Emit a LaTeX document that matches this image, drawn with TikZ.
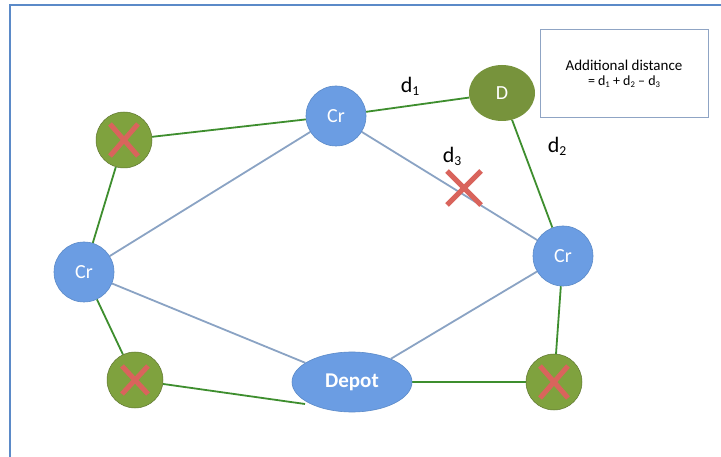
\documentclass[tikz,border=0pt]{standalone}
\usepackage{fontspec}
\setmainfont{Carlito}
\usetikzlibrary{shapes.geometric,calc}
\pgfdeclarelayer{bg}
\pgfsetlayers{bg,main}
\definecolor{crblue}{HTML}{6B9DE3}
\definecolor{crborder}{HTML}{5B8AC8}
\definecolor{olive}{HTML}{77933C}
\definecolor{xgreen}{HTML}{7FA23E}
\definecolor{edgegreen}{HTML}{3E8E2E}
\definecolor{edgeblue}{HTML}{8AA3C4}
\definecolor{xred}{HTML}{D9645C}
\definecolor{frameblue}{HTML}{5B8AC8}
\definecolor{boxborder}{HTML}{8FA4C4}
\newcommand{\sbs}[1]{\raisebox{-0.3ex}{\scalebox{0.62}{#1}}}
\tikzset{
  crnode/.style={circle, minimum size=60pt, inner sep=0pt, fill=crblue, draw=crborder, line width=0.6pt, text=white, font=\fontsize{20}{22}\selectfont},
  xnode/.style={circle, minimum size=56pt, inner sep=0pt, fill=xgreen, draw=olive!80!black, line width=0.5pt},
  dnode/.style={ellipse, minimum width=66pt, minimum height=56pt, inner sep=0pt, fill=olive, text=white, font=\fontsize{20}{22}\selectfont},
  depotnode/.style={ellipse, minimum width=120pt, minimum height=60pt, inner sep=0pt, fill=crblue, draw=crborder, line width=0.6pt, text=white, font=\bfseries\fontsize{21}{23}\selectfont},
  gedge/.style={draw=edgegreen, line width=1.8pt},
  bedge/.style={draw=edgeblue, line width=1.8pt},
  redx/.style={draw=xred, line width=5pt},
  dlabel/.style={font=\fontsize{22}{24}\selectfont, text=black},
  infobox/.style={draw=boxborder, line width=1pt, fill=white, minimum width=168pt, minimum height=88pt, align=center, font=\fontsize{15}{17}\selectfont}
}
\begin{document}
\begin{tikzpicture}[x=1pt,y=-1pt]
\useasboundingbox (0,0) rectangle (721,457);
% frame (top and left)
\coordinate (f1) at (721,5);
\coordinate (f2) at (10,5);
\coordinate (f3) at (10,457);
\draw[frameblue, line width=2pt] (f1) -- (f2) -- (f3);

% nodes
\node[xnode] (xa) at (124,140) {};
\node[crnode] (crt) at (336,116) {Cr};
\node[dnode] (d) at (502,93) {D};
\node[crnode] (crr) at (563,256) {Cr};
\node[crnode] (crl) at (84,272) {Cr};
\node[xnode] (xb) at (135,380) {};
\node[depotnode] (depot) at (352,382) {Depot};
\node[xnode] (xc) at (554,382) {};
\coordinate (dbl) at (305,404);

% edges behind nodes
\begin{pgfonlayer}{bg}
\fill[white] (0,0) rectangle (721,457);
\draw[gedge] (xa) -- (crt);
\draw[gedge] (crt) -- (d);
\draw[gedge] (d) -- (crr);
\draw[gedge] (crr) -- (xc);
\draw[gedge] (xc) -- (depot);
\draw[gedge] (xb) -- (dbl);
\draw[gedge] (crl) -- (xa);
\draw[gedge] (crl) -- (xb);
\draw[bedge] (crl) -- (crt);
\draw[bedge] (crl) -- (depot);
\draw[bedge] (crt) -- (crr);
\draw[bedge] (crr) -- (depot);
\end{pgfonlayer}

% red crosses
\coordinate (rxc) at (464,188);
\draw[redx] ($(rxc)+(-17,-17)$) -- ($(rxc)+(17,17)$);
\draw[redx] ($(rxc)+(17,-17)$) -- ($(rxc)+(-17,17)$);
\draw[redx] ($(xa)+(-14,-16)$) -- ($(xa)+(14,16)$);
\draw[redx] ($(xa)+(14,-16)$) -- ($(xa)+(-14,16)$);
\draw[redx] ($(xb)+(-13,-14)$) -- ($(xb)+(13,14)$);
\draw[redx] ($(xb)+(13,-14)$) -- ($(xb)+(-13,14)$);
\draw[redx] ($(xc)+(-14,-16)$) -- ($(xc)+(14,16)$);
\draw[redx] ($(xc)+(14,-16)$) -- ($(xc)+(-14,16)$);

% labels
\node[dlabel] (l1) at (410,86) {d\sbs{1}};
\node[dlabel] (l2) at (557,146) {d\sbs{2}};
\node[dlabel] (l3) at (452,156) {d\sbs{3}};

% info box
\node[infobox] (box) at (624,74) {Additional distance\\[-2pt]{\fontsize{14}{16}\selectfont = d\sbs{1} + d\sbs{2} – d\sbs{3}}};
\end{tikzpicture}
\end{document}
